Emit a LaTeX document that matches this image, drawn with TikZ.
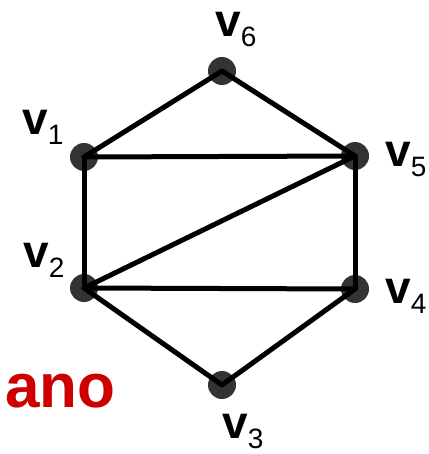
\documentclass[tikz,border=0pt]{standalone}
\usepackage{fontspec}
\setmainfont{Liberation Sans}
\definecolor{anored}{HTML}{CC0000}
\definecolor{dotgray}{HTML}{333333}
\newcommand{\vlab}[1]{\textbf{v}\raisebox{-10pt}{\fontsize{28}{28}\selectfont #1}}
\tikzset{
  vdot/.style={circle, fill=dotgray, inner sep=0pt, minimum size=28pt},
  vname/.style={anchor=base west, inner sep=0pt, font=\fontsize{46}{46}\selectfont},
  edge/.style={line width=5pt, line cap=round, line join=round}
}
\begin{document}
\begin{tikzpicture}[x=1pt,y=-1pt]
		\useasboundingbox (0,0) rectangle (428,454);
		
		% Vertices
		\node[vdot] (v1) at (84,157) {};
		\node[vdot] (v2) at (84,288) {};
		\node[vdot] (v3) at (222,385) {};
		\node[vdot] (v4) at (355,289) {};
		\node[vdot] (v5) at (355,156) {};
		\node[vdot] (v6) at (222,71) {};
		
		% Edges
		\draw[edge] (v1.center) -- (v6.center) -- (v5.center);
		\draw[edge] (v1.center) -- (v5.center);
		\draw[edge] (v1.center) -- (v2.center);
		\draw[edge] (v2.center) -- (v5.center);
		\draw[edge] (v2.center) -- (v4.center);
		\draw[edge] (v5.center) -- (v4.center);
		\draw[edge] (v2.center) -- (v3.center) -- (v4.center);
		
		% Etiquetas
		\node[vname] (l6) at (215,37) {\vlab{6}};
		\node[vname] (l1) at (22,135) {\vlab{1}};
		\node[vname] (l5) at (385,167) {\vlab{5}};
		\node[vname] (l2) at (23,267) {\vlab{2}};
		\node[vname] (l4) at (385,303) {\vlab{4}};
		\node[vname] (l3) at (222,438) {\vlab{3}};
		
		\node[anchor=base west, inner sep=0pt, text=anored, font=\fontsize{62}{62}\selectfont\bfseries] (ano) at (5,407) {ano};
		
\end{tikzpicture}
\end{document}
